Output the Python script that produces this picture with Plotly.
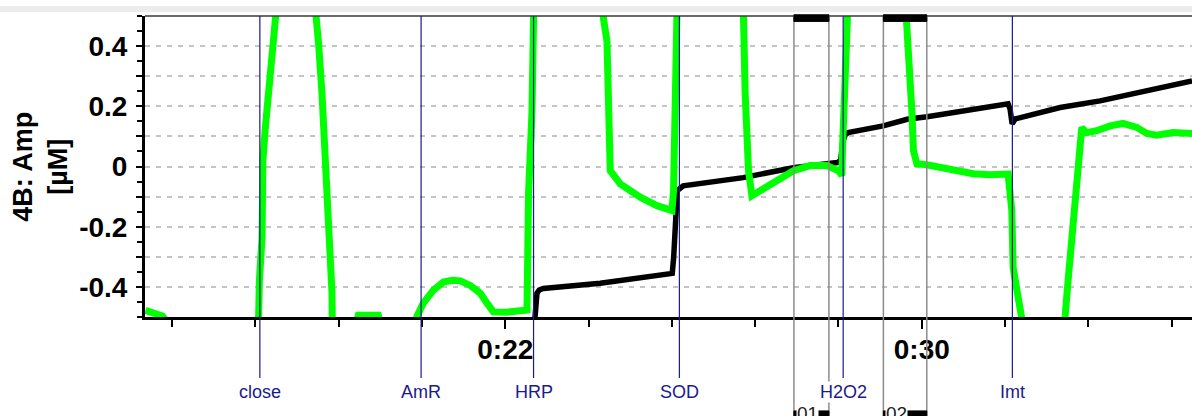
import plotly.graph_objects as go

# ---- data (time in minutes, amplitude in µM) ----
green_t = [15.088, 15.184, 15.414, 15.568, 17.200, 17.263, 17.277, 17.328, 17.344, 17.392,
           17.455, 17.520, 17.584, 17.622, 18.333, 18.384, 18.415, 18.480, 18.544, 18.607,
           18.640, 18.672, 18.678, 19.120, 19.177, 19.561, 19.619, 20.253, 20.305, 20.426,
           20.618, 20.810, 20.982, 21.136, 21.328, 21.520, 21.649, 21.770, 22.033, 22.288,
           22.417, 22.447, 22.513, 22.543, 22.557, 23.863, 23.887, 23.953, 23.983, 24.016,
           24.208, 24.400, 24.592, 24.913, 25.111, 25.201, 25.232, 25.264, 25.283, 25.303,
           26.551, 26.576, 26.608, 26.641, 26.672, 26.737, 26.960, 27.280, 27.536, 27.856,
           28.177, 28.400, 28.465, 28.480, 28.500, 28.561, 28.586, 29.680, 29.713, 29.776,
           29.809, 29.840, 29.905, 30.097, 30.352, 30.673, 30.986, 31.312, 31.658, 31.729,
           31.754, 31.850, 31.921, 31.946, 32.714, 32.753, 32.816, 32.906, 32.977, 33.041,
           33.073, 33.169, 33.361, 33.617, 33.866, 34.129, 34.321, 34.513, 34.826, 35.191]
green_v = [-0.478, -0.485, -0.497, -0.530, -0.530, -0.497, -0.380, -0.235, 0.020, 0.130,
           0.240, 0.350, 0.490, 0.560, 0.560, 0.490, 0.406, 0.240, 0.009, -0.113,
           -0.245, -0.421, -0.530, -0.530, -0.494, -0.494, -0.530, -0.530, -0.497, -0.454,
           -0.411, -0.384, -0.378, -0.380, -0.395, -0.421, -0.454, -0.483, -0.484, -0.482,
           -0.477, -0.090, 0.184, 0.490, 0.560, 0.560, 0.490, 0.417, 0.074, -0.014,
           -0.058, -0.080, -0.102, -0.130, -0.143, -0.146, -0.080, 0.185, 0.490, 0.560,
           0.560, 0.490, 0.241, 0.074, -0.014, -0.097, -0.074, -0.047, -0.014, 0.003,
           0.003, -0.014, -0.030, 0.074, 0.241, 0.490, 0.560, 0.560, 0.477, 0.317,
           0.185, 0.052, 0.009, 0.006, -0.003, -0.014, -0.024, -0.027, -0.025, -0.146,
           -0.335, -0.434, -0.497, -0.530, -0.530, -0.497, -0.367, -0.169, -0.036, 0.096,
           0.129, 0.112, 0.119, 0.135, 0.143, 0.130, 0.110, 0.104, 0.113, 0.110]

black_t = [22.557, 22.586, 22.609, 22.653, 22.730, 23.824, 24.976, 25.207, 25.235, 25.264,
           25.303, 25.418, 26.570, 27.530, 28.375, 28.442, 28.480, 28.528, 28.586, 29.258,
           29.719, 30.103, 31.562, 31.658, 31.697, 31.735, 31.793, 32.657, 33.425, 35.191]
black_v = [-0.530, -0.487, -0.421, -0.410, -0.405, -0.388, -0.362, -0.355, -0.300, -0.190,
           -0.080, -0.064, -0.037, -0.004, 0.013, 0.020, 0.080, 0.105, 0.113, 0.135,
           0.157, 0.165, 0.207, 0.208, 0.190, 0.142, 0.158, 0.196, 0.218, 0.284]

event_names = ["close", "AmR", "HRP", "SOD", "H2O2", "Imt"]
event_t = [17.286, 20.383, 22.543, 25.344, 28.490, 31.740]

mark_names = ["01", "02"]
mark_start = [27.544, 29.262]
mark_end = [28.216, 30.096]

x_tick_vals = [22, 30]
x_tick_text = ["0:22", "0:30"]
y_tick_vals = [-0.4, -0.3, -0.2, -0.1, 0, 0.1, 0.2, 0.3, 0.4]
y_tick_text = ["-0.4", "", "-0.2", "", "0", "", "0.2", "", "0.4"]

FONT = "Liberation Sans, Arial, sans-serif"
NAVY = "#1a1a8c"
GRAY = "#8c8c8c"

fig = go.Figure()
fig.add_trace(go.Scatter(x=black_t, y=black_v, mode="lines",
                         line=dict(color="black", width=5.5), hoverinfo="skip"))
fig.add_trace(go.Scatter(x=green_t, y=green_v, mode="lines",
                         line=dict(color="#00ff00", width=7), hoverinfo="skip"))

shapes = []
# light strip at the very top of the window
shapes.append(dict(type="rect", xref="paper", yref="paper", x0=-0.14, x1=1.0,
                   y0=1.013, y1=1.033, fillcolor="#ececec", line=dict(width=0), layer="above"))
# thin top frame line
shapes.append(dict(type="line", xref="paper", yref="paper", x0=0, x1=1, y0=1, y1=1,
                   line=dict(color="#3a3a3a", width=1.5), layer="above"))
# mark lines and bars
for s, e in zip(mark_start, mark_end):
    for xv in (s, e):
        shapes.append(dict(type="line", xref="x", yref="paper", x0=xv, x1=xv, y0=1.0, y1=-0.36,
                           line=dict(color=GRAY, width=1.5), layer="above"))
    shapes.append(dict(type="rect", xref="x", yref="paper", x0=s, x1=e, y0=0.982, y1=1.004,
                       fillcolor="black", line=dict(color="black", width=1), layer="above"))
    shapes.append(dict(type="rect", xref="x", yref="paper", x0=s, x1=e, y0=-0.312, y1=-0.36,
                       fillcolor="black", line=dict(color="black", width=1), layer="above"))
# event lines
for t in event_t:
    shapes.append(dict(type="line", xref="x", yref="paper", x0=t, x1=t, y0=1.0, y1=-0.203,
                       line=dict(color=NAVY, width=1.2), layer="above"))

annotations = []
for name, t in zip(event_names, event_t):
    annotations.append(dict(x=t, y=-0.249, xref="x", yref="paper", text=name, showarrow=False,
                            xanchor="center", yanchor="middle", bgcolor="white", borderpad=0,
                            font=dict(family=FONT, size=18, color=NAVY)))
for name, s in zip(mark_names, mark_start):
    annotations.append(dict(x=s, y=-0.283, xref="x", yref="paper", text=name, showarrow=False,
                            xanchor="left", yanchor="top", xshift=2, bgcolor="white", borderpad=0,
                            font=dict(family=FONT, size=19, color="#202020")))
annotations.append(dict(x=-0.1, y=0.5, xref="paper", yref="paper",
                        text="4B: Amp<br>[µM]", textangle=-90, showarrow=False,
                        xanchor="center", yanchor="middle",
                        font=dict(family=FONT, size=27, color="black", weight="bold")))

fig.update_layout(
    width=1192, height=416,
    margin=dict(l=145, r=0, t=16, b=99, pad=0),
    paper_bgcolor="white", plot_bgcolor="white",
    showlegend=False,
    shapes=shapes, annotations=annotations,
    xaxis=dict(range=[15.08, 35.19], showline=True, linecolor="black", linewidth=3,
               showgrid=False, zeroline=False,
               tickmode="array", tickvals=x_tick_vals, ticktext=x_tick_text,
               ticks="outside", ticklen=9, tickwidth=2, tickcolor="black",
               ticklabelstandoff=-4,
               tickfont=dict(family=FONT, size=28, color="black", weight="bold"),
               minor=dict(tickmode="linear", tick0=22, dtick=1.6, ticks="outside",
                          ticklen=7, tickwidth=2, tickcolor="black", showgrid=False)),
    yaxis=dict(range=[-0.5, 0.5], showline=True, linecolor="black", linewidth=3,
               showgrid=True, gridcolor="#c4c4c4", gridwidth=1.5, griddash="5px,6px",
               zeroline=False,
               tickmode="array", tickvals=y_tick_vals, ticktext=y_tick_text,
               ticks="outside", ticklen=6, tickwidth=2, tickcolor="black",
               ticklabelstandoff=3,
               tickfont=dict(family=FONT, size=28, color="black", weight="bold"),
               minor=dict(tickmode="linear", tick0=0, dtick=0.05, ticks="outside",
                          ticklen=5, tickwidth=2, tickcolor="black", showgrid=False)),
)

fig.write_html("out.html", config={"displayModeBar": False},
               post_script="document.body.style.margin='0px';document.body.style.overflow='hidden';")
